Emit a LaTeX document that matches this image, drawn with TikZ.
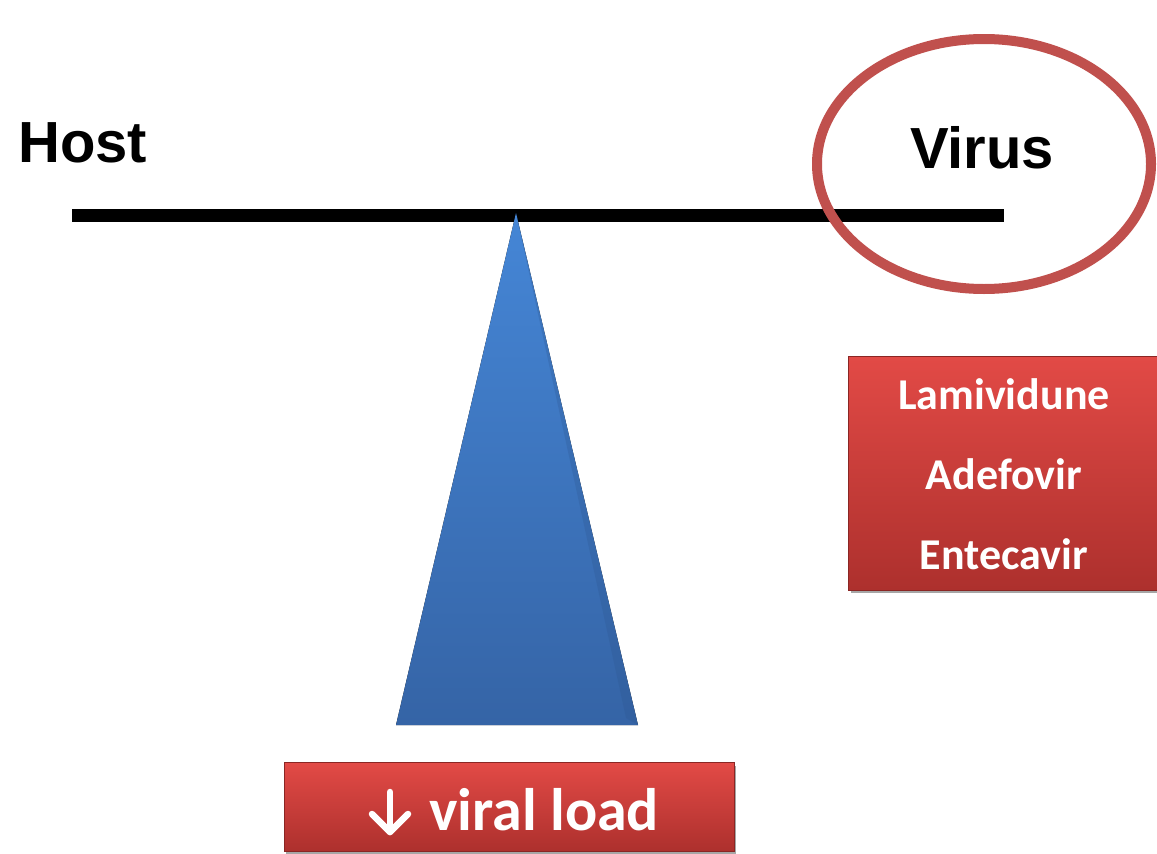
\documentclass[tikz,border=0pt]{standalone}
\usepackage{fontspec}
\setmainfont{Liberation Sans}
\newfontfamily\boxfont{Carlito}
\usetikzlibrary{shadows}
\definecolor{ringred}{HTML}{C0504D}
\definecolor{boxtop}{HTML}{E24A46}
\definecolor{boxbot}{HTML}{AD302D}
\definecolor{tritop}{HTML}{4586D6}
\definecolor{tribot}{HTML}{3564A6}
\tikzset{
  redbox/.style={draw=boxbot!80!black, line width=0.6pt, top color=boxtop, bottom color=boxbot,
    drop shadow={shadow xshift=2pt, shadow yshift=-3pt, fill=black, opacity=0.35}},
  bigword/.style={font=\fontsize{58}{60}\selectfont\bfseries, inner sep=0pt, anchor=base west},
  boxword/.style={font=\boxfont\fontsize{44}{46}\selectfont\bfseries, text=white, inner sep=0pt, anchor=base},
  downarrow/.style={white, line width=6.5pt, line cap=round, line join=round},
}
\begin{document}
\begin{tikzpicture}[x=1pt,y=-1pt]
\useasboundingbox (0,0) rectangle (1157,854);
% beam
\fill[black] (72,209) rectangle (1004,222);
% fulcrum
\coordinate (apex) at (516,213);
\coordinate (bl) at (396,725);
\coordinate (br) at (638,725);
\fill[top color=tritop, bottom color=tribot] (apex) -- (br) -- (bl) -- cycle;
\fill[tribot!85!black, opacity=0.25] (apex) -- (br) -- (626,718) -- cycle;
% labels
\node[bigword] (host) at (18,162) {Host};
\node[bigword] (virus) at (910,168) {Virus};
% ring
\draw[ringred, line width=10pt] (984,164) ellipse [x radius=167, y radius=125];
% drug box
\node[redbox, minimum width=309pt, minimum height=234pt, inner sep=0pt] (drugs) at (1003,473) {};
\node[boxword] (lam) at (1004,409) {Lamividune};
\node[boxword] (ade) at (1004,489) {Adefovir};
\node[boxword] (ent) at (1004,569) {Entecavir};
% viral load box
\node[redbox, minimum width=450pt, minimum height=89pt, inner sep=0pt] (vl) at (509,807) {};
\node[font=\boxfont\fontsize{60}{62}\selectfont\bfseries, text=white, inner sep=0pt, anchor=base west] (vltext) at (429,830) {viral load};
\coordinate (arrtop) at (390,792);
\coordinate (arrtip) at (390,832);
\draw[downarrow] (arrtop) -- (arrtip);
\draw[downarrow] (372,814) -- (arrtip) -- (408,814);
\end{tikzpicture}
\end{document}
